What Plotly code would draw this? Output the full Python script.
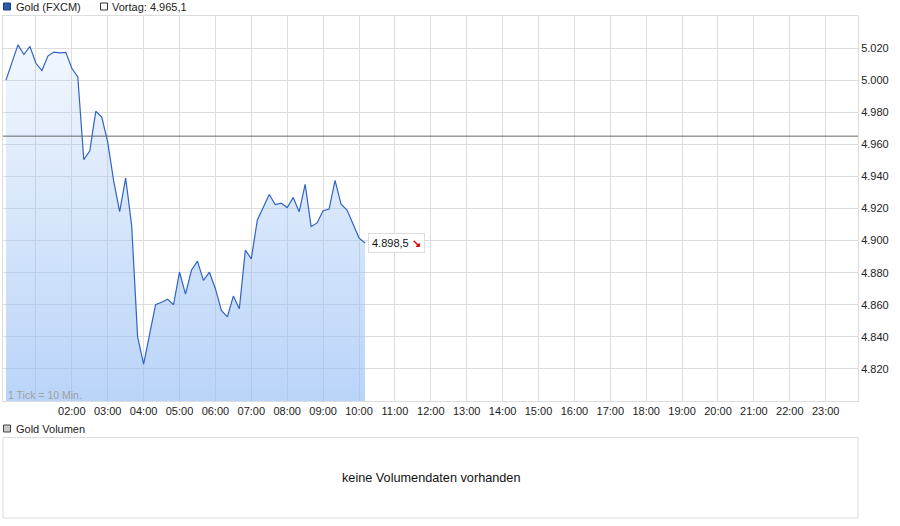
import plotly.graph_objects as go
import pandas as pd

# ---- data ----
day = "2024-01-01"
first_time = "00:10"
tick_minutes = 10
gold_close = [5000.0, 5011.0, 5022.0, 5016.0, 5021.0, 5010.5, 5006.0, 5015.0, 5017.5, 5017.0,
              5017.3, 5007.4, 5002.0, 4950.5, 4955.8, 4980.6, 4977.0, 4961.5, 4937.0, 4918.0,
              4939.0, 4909.5, 4840.0, 4823.0, 4841.6, 4860.0, 4861.6, 4863.5, 4860.0, 4880.4,
              4866.6, 4881.5, 4887.2, 4875.2, 4880.3, 4870.0, 4856.5, 4852.4, 4865.4, 4857.5,
              4894.0, 4888.6, 4912.7, 4921.0, 4928.7, 4922.4, 4923.3, 4920.6, 4926.8, 4918.0,
              4935.0, 4908.7, 4911.0, 4918.6, 4919.6, 4937.5, 4922.7, 4919.0, 4910.3, 4901.7,
              4898.5]
vortag = 4965.1
hour_ticks = ["01:00", "02:00", "03:00", "04:00", "05:00", "06:00", "07:00", "08:00",
              "09:00", "10:00", "11:00", "12:00", "13:00", "14:00", "15:00", "16:00",
              "17:00", "18:00", "19:00", "20:00", "21:00", "22:00", "23:00"]
hour_labels = [""] + hour_ticks[1:]
price_ticks = [4820, 4840, 4860, 4880, 4900, 4920, 4940, 4960, 4980, 5000, 5020]
series_name = "Gold (FXCM)"
volume_name = "Gold Volumen"
volume_msg = "keine Volumendaten vorhanden"
tick_note = "1 Tick = 10 Min."

times = pd.date_range(f"{day} {first_time}", periods=len(gold_close), freq=f"{tick_minutes}min")


def de(v, d=1):
    s = f"{v:,.{d}f}"
    return s.replace(",", "X").replace(".", ",").replace("X", ".")


W, H = 900, 526
L, R = 3, 858
TOP, BOT = 16, 401
FONT = "Liberation Sans, Arial, sans-serif"
TXT = "#222222"


def px(x):
    return (x - L) / (R - L)


def py(y):
    return 1 - y / H


fig = go.Figure()
fig.add_trace(go.Scatter(
    x=times, y=gold_close, mode="lines",
    line=dict(color="#2f64c4", width=1.2),
    fill="tozeroy",
    fillgradient=dict(type="vertical",
                      colorscale=[[0, "rgba(150,190,245,0.66)"], [1, "rgba(150,190,245,0.08)"]],
                      start=4800, stop=5040),
    hoverinfo="skip",
))

shapes = [
    # Vortag line
    dict(type="line", xref="paper", yref="y", x0=0, x1=1, y0=vortag, y1=vortag,
         line=dict(color="#666666", width=1)),
    # legend squares
    dict(type="rect", xref="paper", yref="paper", x0=px(3.5), x1=px(10.5), y0=py(10), y1=py(3),
         fillcolor="#2a5db0", line=dict(color="#1a3c7a", width=1)),
    dict(type="rect", xref="paper", yref="paper", x0=px(100.5), x1=px(107.5), y0=py(10), y1=py(3),
         fillcolor="white", line=dict(color="#333333", width=1)),
    dict(type="rect", xref="paper", yref="paper", x0=px(3.5), x1=px(10.5), y0=py(432), y1=py(425),
         fillcolor="#c8c8c8", line=dict(color="#444444", width=1)),
    # volume panel box
    dict(type="rect", xref="paper", yref="paper", x0=0, x1=1, y0=py(518), y1=py(437.5),
         fillcolor="rgba(0,0,0,0)", line=dict(color="#dddddd", width=1)),
]

annotations = [
    dict(xref="paper", yref="paper", x=px(13.5), y=py(6.5), xanchor="left", yanchor="middle",
         text=series_name, showarrow=False, font=dict(size=11, color=TXT)),
    dict(xref="paper", yref="paper", x=px(110), y=py(6.5), xanchor="left", yanchor="middle",
         text=f"Vortag: {de(vortag)}", showarrow=False, font=dict(size=11, color=TXT)),
    dict(xref="paper", yref="paper", x=px(13.5), y=py(428.5), xanchor="left", yanchor="middle",
         text=volume_name, showarrow=False, font=dict(size=11, color=TXT)),
    dict(xref="paper", yref="paper", x=px(430.5), y=py(477.5), xanchor="center", yanchor="middle",
         text=volume_msg, showarrow=False, font=dict(size=12.7, color="#111111")),
    dict(xref="paper", yref="paper", x=px(6), y=py(395), xanchor="left", yanchor="middle",
         text=tick_note, showarrow=False, font=dict(size=10.5, color="#a0a0a0")),
    dict(xref="x", yref="y", x=times[-1], y=gold_close[-1], xanchor="left", yanchor="middle",
         xshift=3, text=f"{de(gold_close[-1])} <span style='color:#e00000'><b>↘</b></span>",
         showarrow=False, bgcolor="white", bordercolor="#dddddd", borderwidth=1, borderpad=3,
         font=dict(size=11, color="#111111")),
]

fig.update_layout(
    width=W, height=H,
    margin=dict(l=L, r=W - R, t=0, b=0),
    paper_bgcolor="white", plot_bgcolor="white",
    showlegend=False, separators=",.",
    font=dict(family=FONT, size=11, color=TXT),
    shapes=shapes, annotations=annotations,
    xaxis=dict(
        type="date", range=[f"{day} 00:05", f"{day} 23:54"],
        tickvals=[f"{day} {h}" for h in hour_ticks], ticktext=hour_labels,
        showgrid=True, gridcolor="#dddddd", gridwidth=1,
        showline=True, linecolor="#dddddd", mirror=True, zeroline=False,
        ticks="", tickfont=dict(size=11, color=TXT),
        domain=[0, 1], automargin=False, fixedrange=True,
    ),
    yaxis=dict(
        side="right", range=[4800, 5040],
        tickvals=price_ticks, tickformat=",.0f",
        showgrid=True, gridcolor="#dddddd", gridwidth=1,
        showline=True, linecolor="#dddddd", mirror=True, zeroline=False,
        ticks="", tickfont=dict(size=11, color=TXT),
        domain=[py(BOT), py(TOP)], automargin=False, fixedrange=True,
    ),
)

fig.write_html("out.html", config={"displayModeBar": False},
               post_script="document.body.style.margin='0';document.body.style.overflow='hidden';")
